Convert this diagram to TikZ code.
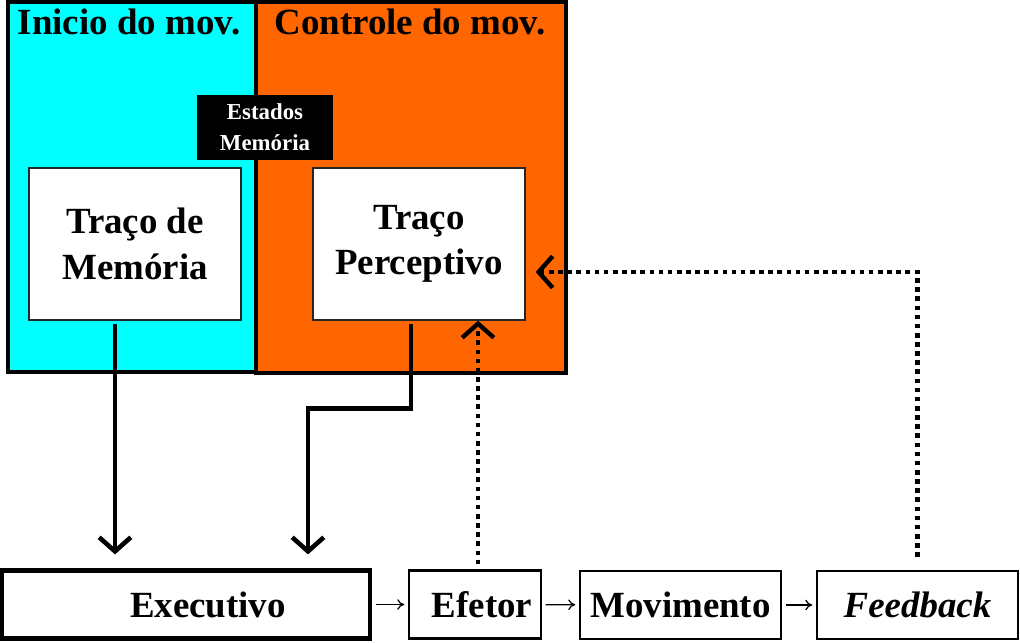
\documentclass[tikz,border=0pt]{standalone}
\usepackage{fontspec}
\setmainfont{Liberation Serif}
\usetikzlibrary{arrows.meta,calc,positioning}
\definecolor{inicio}{HTML}{00FFFF}
\definecolor{controle}{HTML}{FF6600}

\tikzset{
  caixa/.style={draw=black!85, line width=0.8pt, fill=white, minimum width=4.24cm,
    minimum height=3.04cm, align=center, font=\bfseries\fontsize{21}{26}\selectfont},
  etapa/.style={draw, line width=1.4pt, fill=white, minimum height=1.36cm, inner sep=0pt,
    font=\bfseries\fontsize{21}{25}\selectfont},
  titulo/.style={font=\bfseries\fontsize{21}{25}\selectfont},
  fluxo/.style={line width=2.6pt, -{Straight Barb[length=8pt,width=18pt]}},
  retorno/.style={line width=2.5pt, dash pattern=on 2.6pt off 2.6pt,
    -{Straight Barb[length=8pt,width=18pt]}},
  seta/.style={line width=0.7pt, -{To[length=4pt,width=6pt]}, shorten <=2pt, shorten >=2pt},
}

\begin{document}
\begin{tikzpicture}[x=0.02cm, y=-0.02cm]
\useasboundingbox (0,0) rectangle (1020,642);

% regioes
\draw[fill=inicio, line width=1.8pt] (8,2) rectangle (256,372);
\draw[fill=controle, line width=1.8pt] (256,2) rectangle (566,373);
\node[titulo] (inicio) at (129,22) {Inicio do mov.};
\node[titulo] (controle) at (410,22) {Controle do mov.};

\node[fill=black, text=white, align=center, minimum width=2.72cm, minimum height=1.3cm,
  inner sep=0pt, font=\bfseries\fontsize{13}{17.5}\selectfont] (estados) at (265,127.5) {Estados\\Memória};

\node[caixa] (tm) at (135,244) {Traço de\\Memória};
\node[caixa] (tp) at (419,244) {Traço\\Perceptivo};

% etapas
\node[etapa, line width=2.4pt, minimum width=7.36cm] (exec) at (186,604.5) {\hspace{0.88cm}Executivo};
\node[etapa, minimum width=2.64cm] (efetor) at (475,604.5) {\hspace{0.28cm}Efetor};
\node[etapa, minimum width=4.02cm] (movimento) at (680.5,605) {Movimento};
\node[etapa, minimum width=4.02cm] (fbk) at (917.5,605) {\itshape Feedback};

\draw[seta] (exec) -- (efetor);
\draw[seta] (efetor) -- (movimento);
\draw[seta] (movimento) -- (fbk);

% tracos -> executivo
\coordinate (m1) at ($(tm.south)+(-20,3)$);
\coordinate (p1) at ($(tp.south)+(-8,3)$);
\coordinate (p2) at ($(exec.north)+(122,0)$);
\draw[fluxo, shorten >=0.28cm] (m1) -- (m1 |- exec.north);
\draw[fluxo, shorten >=0.28cm] (p1) -- ++(0,85) -| (p2);

% retorno
\coordinate (e1) at ($(efetor.north)+(3,-5)$);
\coordinate (f1) at ($(fbk.north)+(0,-13)$);
\coordinate (f2) at ($(tp.east)+(10,28)$);
\draw[retorno] (e1) -- (e1 |- tp.south);
\draw[retorno] (f1) |- (f2);
\end{tikzpicture}
\end{document}
